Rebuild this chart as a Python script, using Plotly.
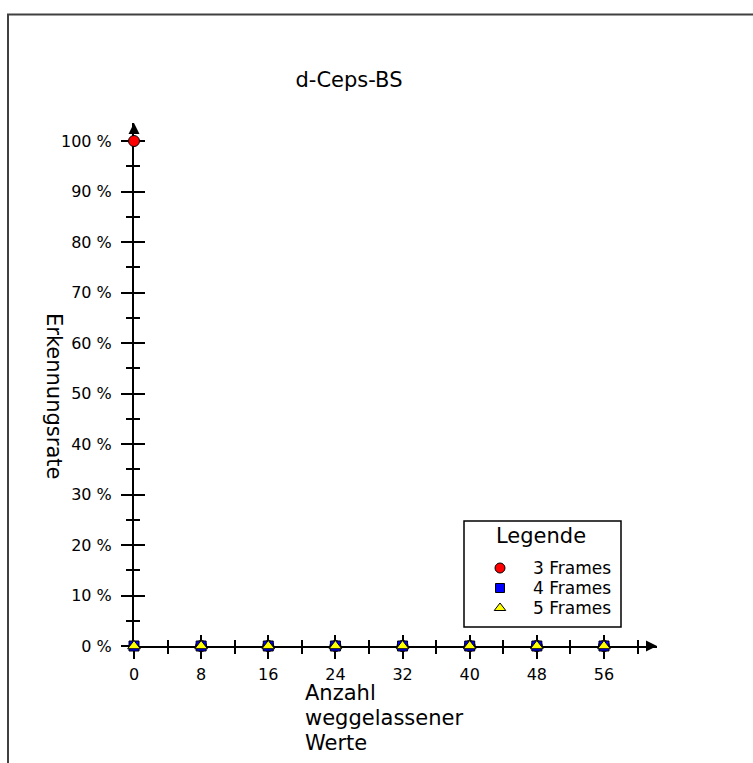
import plotly.graph_objects as go

# ---------------- data ----------------
x_values = [0, 8, 16, 24, 32, 40, 48, 56]
series_names = ["3 Frames", "4 Frames", "5 Frames"]
rate_3_frames = [100, 0, 0, 0, 0, 0, 0, 0]
rate_4_frames = [0, 0, 0, 0, 0, 0, 0, 0]
rate_5_frames = [0, 0, 0, 0, 0, 0, 0, 0]
x_tick_step = 8
x_minor_step = 4
y_tick_step = 10
y_minor_step = 5
chart_title = "d-Ceps-BS"
y_title = "Erkennungsrate"
x_title_lines = ["Anzahl", "weggelassener", "Werte"]
legend_title = "Legende"

# ---------------- styles ----------------
FONT = "DejaVu Sans"
W, H = 753, 763
PL, PR, PT, PB = 134, 657, 123, 646          # plot area in px
px_per_x = 67.14 / 8
px_per_y = 5.05
x_max = (PR - PL) / px_per_x
y_max = (PB - PT) / px_per_y

def paper_x(px):
    return (px - PL) / (PR - PL)

def paper_y(py):
    return (PB - py) / (PB - PT)

styles = [
    dict(symbol="circle", color="#ff0000", size=11),
    dict(symbol="square", color="#0000ff", size=10),
    dict(symbol="triangle-up", color="#ffff00", size=11),
]
series_values = [rate_3_frames, rate_4_frames, rate_5_frames]

fig = go.Figure()
for name, vals, st in zip(series_names, series_values, styles):
    fig.add_trace(go.Scatter(
        x=x_values, y=vals, mode="markers", name=name, showlegend=False,
        cliponaxis=False,
        marker=dict(symbol=st["symbol"], color=st["color"], size=st["size"],
                    line=dict(color="black", width=1)),
    ))

# custom legend drawn on an auxiliary axis pair
lg_x0, lg_x1, lg_top, lg_bot = 464, 621, 521, 627
item_rows_px = [568, 588, 608]
for name, st, row in zip(series_names, styles, item_rows_px):
    fig.add_trace(go.Scatter(
        x=[(500 - lg_x0) / (lg_x1 - lg_x0)], y=[(lg_bot - row) / (lg_bot - lg_top)],
        xaxis="x3", yaxis="y3", mode="markers", showlegend=False, hoverinfo="skip",
        marker=dict(symbol=st["symbol"], color=st["color"], size=st["size"] - 1,
                    line=dict(color="black", width=1)),
    ))

annotations = []
for name, row in zip(series_names, item_rows_px):
    annotations.append(dict(
        xref="x3", yref="y3", x=(531 - lg_x0) / (lg_x1 - lg_x0),
        y=(lg_bot - row) / (lg_bot - lg_top), text=name, showarrow=False,
        xanchor="left", yanchor="middle", font=dict(family=FONT, size=17, color="black"),
    ))
annotations.append(dict(
    xref="x3", yref="y3", x=(541 - lg_x0) / (lg_x1 - lg_x0),
    y=(lg_bot - 536) / (lg_bot - lg_top), text=legend_title, showarrow=False,
    xanchor="center", yanchor="middle", font=dict(family=FONT, size=21, color="black"),
))

# axis titles
annotations.append(dict(
    xref="paper", yref="paper", x=paper_x(54), y=paper_y(396), text=y_title,
    textangle=90, showarrow=False, xanchor="center", yanchor="middle",
    font=dict(family=FONT, size=21, color="black"),
))
for line, py in zip(x_title_lines, [693, 718, 743]):
    annotations.append(dict(
        xref="paper", yref="paper", x=paper_x(303), y=paper_y(py), text=line,
        showarrow=False, xanchor="left", yanchor="middle",
        font=dict(family=FONT, size=21, color="black"),
    ))

# axis arrowheads
annotations.append(dict(x=x_max, y=0, xref="x", yref="y", ax=-12, ay=0, text="",
                        showarrow=True, arrowhead=2, arrowsize=1.1, arrowwidth=2,
                        arrowcolor="black"))
annotations.append(dict(x=0, y=y_max, xref="x", yref="y", ax=0, ay=12, text="",
                        showarrow=True, arrowhead=2, arrowsize=1.1, arrowwidth=2,
                        arrowcolor="black"))

shapes = [
    # outer frame (left and top edges)
    dict(type="path", xref="paper", yref="paper",
         path=f"M {paper_x(8)},{paper_y(770)} L {paper_x(8)},{paper_y(14.5)} L {paper_x(760)},{paper_y(14.5)}",
         line=dict(color="#404040", width=2)),
    # legend box
    dict(type="rect", xref="x3 domain", yref="y3 domain", x0=0, x1=1, y0=0, y1=1,
         line=dict(color="black", width=1.5)),
]

tickfont = dict(family=FONT, size=16, color="black")
common_x = dict(range=[0, x_max], tick0=0, dtick=x_tick_step, showgrid=False,
                zeroline=False, ticklen=11, tickwidth=1.5, tickcolor="black",
                fixedrange=True, layer="below traces")
common_y = dict(range=[0, y_max], tick0=0, dtick=y_tick_step, showgrid=False,
                zeroline=False, ticklen=11, tickwidth=1.5, tickcolor="black",
                fixedrange=True, layer="below traces")

fig.update_layout(
    width=W, height=H,
    margin=dict(l=PL, r=W - PR, t=PT, b=H - PB, pad=0),
    paper_bgcolor="white", plot_bgcolor="rgba(0,0,0,0)",
    font=dict(family=FONT, size=16, color="black"),
    title=dict(text=chart_title, x=paper_x(349) * (PR - PL) / W + PL / W,
               xanchor="center", y=1 - 80 / H, yanchor="middle",
               font=dict(family=FONT, size=21, color="black")),
    xaxis=dict(**common_x, ticks="outside", showline=True, linecolor="black",
               linewidth=2, tickfont=tickfont, ticklabelstandoff=2,
               minor=dict(dtick=x_minor_step, tick0=0, ticks="outside", ticklen=6,
                          tickwidth=1.5, tickcolor="black", showgrid=False)),
    xaxis2=dict(**common_x, ticks="inside", overlaying="x", anchor="y", side="bottom",
                showline=False, showticklabels=False,
                minor=dict(dtick=x_minor_step, tick0=0, ticks="inside", ticklen=6,
                           tickwidth=1.5, tickcolor="black", showgrid=False)),
    yaxis=dict(**common_y, ticks="outside", showline=True, linecolor="black",
               linewidth=2, tickfont=tickfont, ticksuffix=" %", ticklabelstandoff=6,
               minor=dict(dtick=y_minor_step, tick0=0, ticks="outside", ticklen=6,
                          tickwidth=1.5, tickcolor="black", showgrid=False)),
    yaxis2=dict(**common_y, ticks="inside", overlaying="y", anchor="x", side="left",
                showline=False, showticklabels=False,
                minor=dict(dtick=y_minor_step, tick0=0, ticks="inside", ticklen=6,
                           tickwidth=1.5, tickcolor="black", showgrid=False)),
    xaxis3=dict(domain=[paper_x(lg_x0), paper_x(lg_x1)], range=[0, 1], anchor="y3",
                visible=False, fixedrange=True),
    yaxis3=dict(domain=[paper_y(lg_bot), paper_y(lg_top)], range=[0, 1], anchor="x3",
                visible=False, fixedrange=True),
    annotations=annotations,
    shapes=shapes,
    showlegend=False,
)

# invisible traces so the overlay axes get drawn
fig.add_trace(go.Scatter(x=[None], y=[None], xaxis="x2", yaxis="y", showlegend=False,
                         hoverinfo="skip"))
fig.add_trace(go.Scatter(x=[None], y=[None], xaxis="x", yaxis="y2", showlegend=False,
                         hoverinfo="skip"))

fig.write_html("out.html")
